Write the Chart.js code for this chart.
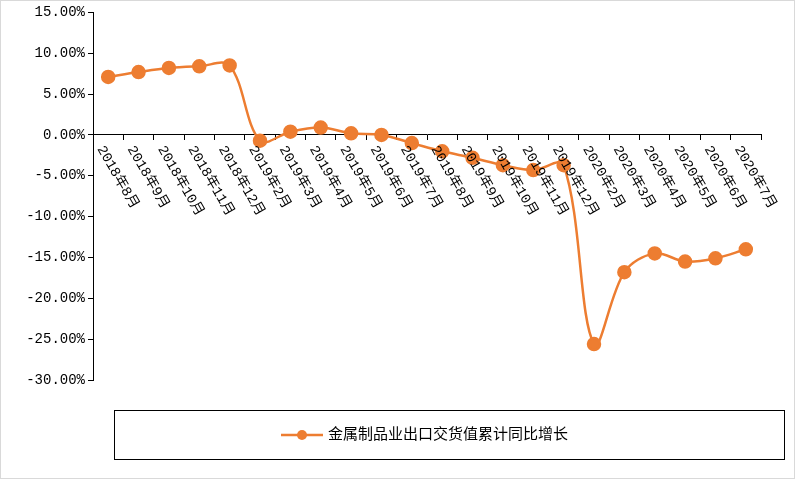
<!DOCTYPE html>
<html><head><meta charset="utf-8">
<script src="https://cdn.jsdelivr.net/npm/chart.js@4/dist/chart.umd.min.js"></script>
<style>html,body{margin:0;padding:0;background:#fff}#w{width:793px;height:477px;border:1px solid #d9d9d9}</style>
</head><body><div id="w"><canvas id="c"></canvas></div>
<script>
const categories=["2018年8月","2018年9月","2018年10月","2018年11月","2018年12月","2019年2月","2019年3月","2019年4月","2019年5月","2019年6月","2019年7月","2019年8月","2019年9月","2019年10月","2019年11月","2019年12月","2020年2月","2020年3月","2020年4月","2020年5月","2020年6月","2020年7月"];
const values=[7.1,7.7,8.2,8.4,8.5,-0.7,0.4,0.9,0.2,0.0,-1.0,-2.0,-2.8,-3.7,-4.3,-3.7,-25.6,-16.8,-14.5,-15.5,-15.1,-14.0];
const seriesName="金属制品业出口交货值累计同比增长";
const color="#ED7D31";
const font="'Liberation Mono','Noto Sans CJK SC', monospace";
const deco={id:'deco',afterDraw(ch){
 const ctx=ch.ctx,x=ch.scales.x;ctx.save();
 ctx.font="14px "+font;ctx.fillStyle="#000";ctx.textBaseline="middle";
 const y0=ch.scales.y.getPixelForValue(0);
 categories.forEach((c,i)=>{const px=x.getPixelForValue(i);ctx.save();ctx.translate(px-8,y0+12);ctx.rotate(Math.PI/3);ctx.textAlign="left";ctx.fillText(c,0,0);ctx.restore();});
 ctx.strokeStyle="#000";ctx.lineWidth=1;ctx.strokeRect(113.5,409.5,670,49);
 ctx.strokeStyle=color;ctx.lineWidth=2.5;ctx.beginPath();ctx.moveTo(280,434);ctx.lineTo(322,434);ctx.stroke();
 ctx.fillStyle=color;ctx.beginPath();ctx.arc(301,434,5,0,Math.PI*2);ctx.fill();
 ctx.fillStyle="#000";ctx.font="15px "+font;ctx.fillText(seriesName,327,434);
 ctx.restore();}};
new Chart(document.getElementById('c'),{type:'line',
 data:{labels:categories,datasets:[{label:seriesName,data:values,borderColor:color,backgroundColor:color,borderWidth:2.5,pointRadius:6,pointHoverRadius:6,tension:0.35}]},
 options:{responsive:true,maintainAspectRatio:false,animation:false,
  layout:{padding:{top:11,bottom:98,right:33,left:0}},
  plugins:{legend:{display:false},tooltip:{enabled:false}},
  scales:{
   x:{position:{y:0},offset:true,grid:{display:true,drawOnChartArea:false,drawTicks:true,tickLength:5,tickColor:'#000',offset:true},border:{color:'#000'},ticks:{display:false}},
   y:{min:-30,max:15,afterFit(s){s.width=92},grid:{display:true,drawOnChartArea:false,drawTicks:true,tickLength:5,tickColor:'#000'},border:{color:'#000'},
     ticks:{stepSize:5,color:'#000',font:{size:14,family:font},callback:v=>v.toFixed(2)+'%'}}}},
 plugins:[deco]});
</script></body></html>
